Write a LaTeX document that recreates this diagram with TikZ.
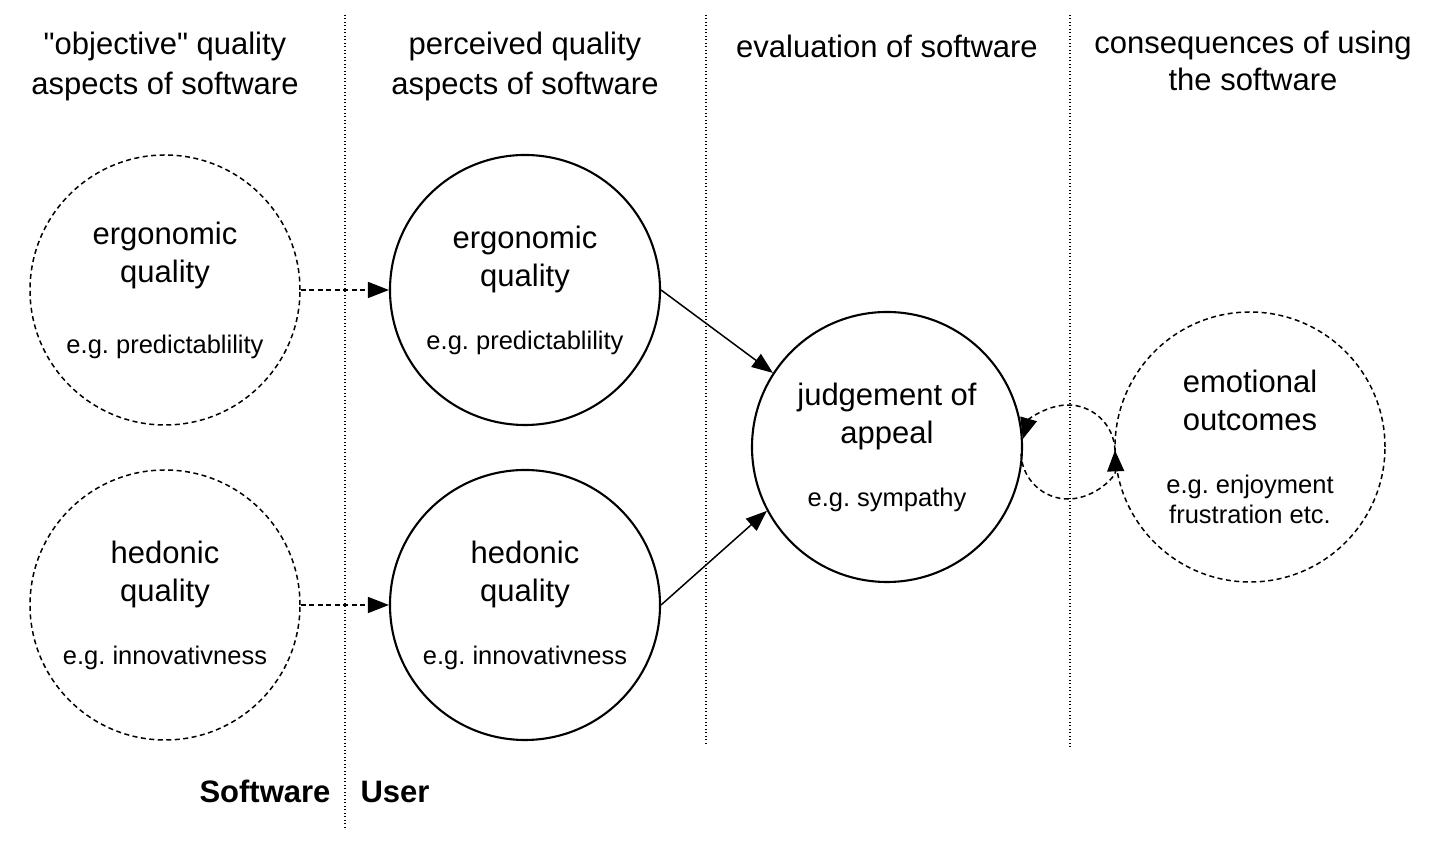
\documentclass[tikz,border=0pt]{standalone}
\usepackage{fontspec}
\setmainfont{Liberation Sans}
\newfontfamily\plainq{Liberation Sans}
\usetikzlibrary{arrows.meta}
\begin{document}
\frenchspacing
\begin{tikzpicture}[x=1pt,y=1pt,
  qc/.style={circle, draw, line width=2.1pt, minimum size=270pt, inner sep=0pt, align=center, font=\fontsize{31}{38}\selectfont},
  qcd/.style={qc, line width=1.5pt, dash pattern=on 5pt off 3.5pt},
  head/.style={align=center, font=\fontsize{31}{40}\selectfont, inner sep=0pt},
  sepline/.style={line width=1.1pt, dash pattern=on 1pt off 2.5pt},
  arr/.style={-{Triangle[length=21pt,width=16pt]}, line width=1.5pt},
  darr/.style={arr, dash pattern=on 5pt off 3.5pt},
  loopd/.style={line width=1.5pt, dash pattern=on 5pt off 3.5pt, -{Triangle[length=21pt,width=17pt]}}
]
\newcommand{\smalltxt}[1]{{\fontsize{25.5}{30}\selectfont #1}}
\useasboundingbox (0,0) rectangle (1436,842);
% column separators
\coordinate (s1t) at (345,827); \coordinate (s1b) at (345,12);
\coordinate (s2t) at (706,827); \coordinate (s2b) at (706,97);
\coordinate (s3t) at (1070,827); \coordinate (s3b) at (1070,92);
\draw[sepline] (s1t) -- (s1b);
\draw[sepline] (s2t) -- (s2b);
\draw[sepline] (s3t) -- (s3b);
% headings
\node[head] (h1) at (165,776) {{\plainq "objective"} quality\\aspects of software};
\node[head] (h2) at (525,776) {perceived quality\\aspects of software};
\node[head] (h3) at (887,796) {evaluation of software};
\node[head, font=\fontsize{31}{37}\selectfont] (h4) at (1253,781) {consequences of using\\the software};
% circles
\node[qcd] (oe) at (165,552) {ergonomic\\quality\\[33pt]\smalltxt{e.g. predictablility}};
\node[qcd] (oh) at (165,237) {hedonic\\quality\\[25pt]\smalltxt{e.g. innovativness}};
\node[qc] (pe) at (525,552) {ergonomic\\quality\\[25pt]\smalltxt{e.g. predictablility}};
\node[qc] (ph) at (525,237) {hedonic\\quality\\[25pt]\smalltxt{e.g. innovativness}};
\node[qc] (ju) at (887,395) {judgement of\\appeal\\[25pt]\smalltxt{e.g. sympathy}};
\node[qcd] (em) at (1250,395) {emotional\\outcomes\\[25pt]\smalltxt{e.g. enjoyment}\\[-8pt]\smalltxt{frustration etc.}};
% connectors
\draw[darr] (oe.east) -- (pe.west);
\draw[darr] (oh.east) -- (ph.west);
\draw[arr] (pe.east) -- (ju.147);
\draw[arr] (ph.east) -- (ju.208);
% feedback loop between judgement and emotional outcomes
\coordinate (lp) at (1068,390);
\draw[loopd] ([shift={(2:47)}]lp) arc[start angle=2, end angle=164, radius=47];
\draw[loopd] ([shift={(182:47)}]lp) arc[start angle=182, end angle=362, radius=47];
% bottom labels
\node[font=\bfseries\fontsize{31}{38}\selectfont, anchor=base east] (sw) at (334,39) {Software};
\node[font=\bfseries\fontsize{31}{38}\selectfont, anchor=base west] (us) at (357,39) {User};
\end{tikzpicture}
\end{document}
